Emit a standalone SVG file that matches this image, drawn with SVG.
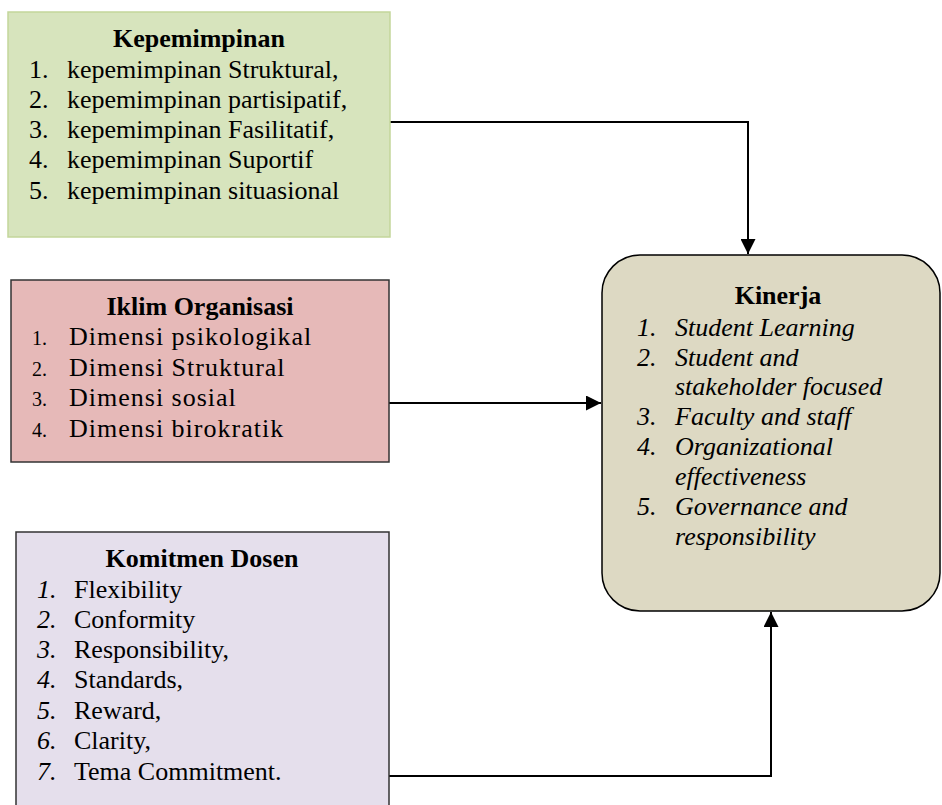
<svg xmlns="http://www.w3.org/2000/svg" width="942" height="805" viewBox="0 0 942 805">
<style>
text{font-family:"Liberation Serif","Times New Roman",serif;font-size:26px;fill:#000}
.t{font-weight:bold;text-anchor:middle}
.i{font-style:italic}
.sp{letter-spacing:1px}
.n{font-size:20px}
.c{fill:none;stroke:#000;stroke-width:2}
</style>
<defs>
<marker id="ah" markerWidth="15" markerHeight="15" refX="15" refY="7.5" orient="auto" markerUnits="userSpaceOnUse">
<path d="M0,0 L15,7.5 L0,15 Z" fill="#000"/>
</marker>
</defs>
<rect width="942" height="805" fill="#fff"/>
<g id="connectors">
<path class="c" d="M390,122 H748 V254" marker-end="url(#ah)"/>
<path class="c" d="M389,403 H601" marker-end="url(#ah)"/>
<path class="c" d="M389,776 H771 V612" marker-end="url(#ah)"/>
</g>
<g id="kepemimpinan">
<rect x="8" y="12" width="382" height="225" fill="#d7e4bd" stroke="#c3d69b" stroke-width="1.5"/>
<text class="t" x="199" y="47">Kepemimpinan</text>
<text x="29" y="78">1.</text><text x="67" y="78">kepemimpinan Struktural,</text>
<text x="29" y="108">2.</text><text x="67" y="108">kepemimpinan partisipatif,</text>
<text x="29" y="138">3.</text><text x="67" y="138">kepemimpinan Fasilitatif,</text>
<text x="29" y="168">4.</text><text x="67" y="168">kepemimpinan Suportif</text>
<text x="29" y="199">5.</text><text x="67" y="199">kepemimpinan situasional</text>
</g>
<g id="iklim">
<rect x="11" y="280" width="378" height="182" fill="#e6b9b8" stroke="#333" stroke-width="1.5"/>
<text class="t" x="200" y="315">Iklim Organisasi</text>
<text class="n" x="32" y="345">1.</text><text class="sp" x="69" y="345">Dimensi psikologikal</text>
<text class="n" x="32" y="376">2.</text><text class="sp" x="69" y="376">Dimensi Struktural</text>
<text class="n" x="32" y="406">3.</text><text class="sp" x="69" y="406">Dimensi sosial</text>
<text class="n" x="32" y="437">4.</text><text class="sp" x="69" y="437">Dimensi birokratik</text>
</g>
<g id="komitmen">
<rect x="16" y="532" width="373" height="290" fill="#e5dfec" stroke="#333" stroke-width="1.5"/>
<text class="t" x="202" y="567">Komitmen Dosen</text>
<text class="i" x="37" y="598">1.</text><text x="74" y="598">Flexibility</text>
<text class="i" x="37" y="628">2.</text><text x="74" y="628">Conformity</text>
<text class="i" x="37" y="658">3.</text><text x="74" y="658">Responsibility,</text>
<text class="i" x="37" y="688">4.</text><text x="74" y="688">Standards,</text>
<text class="i" x="37" y="719">5.</text><text x="74" y="719">Reward,</text>
<text class="i" x="37" y="749">6.</text><text x="74" y="749">Clarity,</text>
<text class="i" x="37" y="780">7.</text><text x="74" y="780">Tema Commitment.</text>
</g>
<g id="kinerja">
<rect x="602" y="255" width="338" height="356" rx="38" ry="38" fill="#ddd9c3" stroke="#000" stroke-width="1.5"/>
<text class="t" x="778" y="304">Kinerja</text>
<text class="i" x="637" y="336">1.</text><text class="i" x="675" y="336">Student Learning</text>
<text class="i" x="637" y="366">2.</text><text class="i" x="675" y="366">Student and</text>
<text class="i" x="675" y="395">stakeholder focused</text>
<text class="i" x="637" y="425">3.</text><text class="i" x="675" y="425">Faculty and staff</text>
<text class="i" x="637" y="455">4.</text><text class="i" x="675" y="455">Organizational</text>
<text class="i" x="675" y="485">effectiveness</text>
<text class="i" x="637" y="515">5.</text><text class="i" x="675" y="515">Governance and</text>
<text class="i" x="675" y="545">responsibility</text>
</g>
</svg>
